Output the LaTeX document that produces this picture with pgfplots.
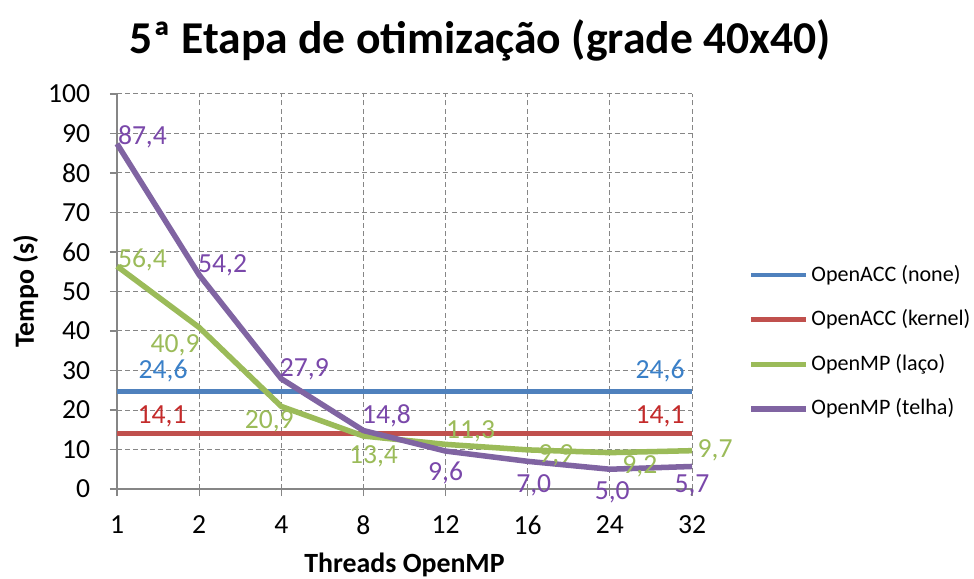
\documentclass[border=0pt]{standalone}
\usepackage{fontspec}
\setmainfont{Carlito}
\usepackage{pgfplots}
\usepackage{pgfplotstable}
\pgfplotsset{compat=1.18}

\definecolor{cnone}{HTML}{4F81BD}
\definecolor{ckern}{HTML}{C0504D}
\definecolor{claco}{HTML}{9BBB59}
\definecolor{ctelha}{HTML}{8064A2}
\definecolor{tnone}{HTML}{3A80C8}
\definecolor{tkern}{HTML}{C42B2B}
\definecolor{tlaco}{HTML}{9BBB59}
\definecolor{ttelha}{HTML}{7A48AA}
\definecolor{gridgray}{HTML}{868686}

% x = category index (1,2,4,8,12,16,24,32 threads)
\pgfplotstableread{
x y
0 24.6
1 24.6
2 24.6
3 24.6
4 24.6
5 24.6
6 24.6
7 24.6
}\tabnone
\pgfplotstableread{
x y
0 14.1
1 14.1
2 14.1
3 14.1
4 14.1
5 14.1
6 14.1
7 14.1
}\tabkernel
% endpoint labels, with label offsets in pt
\pgfplotstableread{
x y dx dy
0 24.6 19.2 8.5
7 24.6 -13.3 8.7
}\tabnonelab
\pgfplotstableread{
x y dx dy
0 14.1 18.8 7.0
7 14.1 -13.3 7.0
}\tabkernellab
\pgfplotstableread{
x y dx dy
0 56.4 10.6 2.6
1 40.9 -10.0 -7.3
2 20.9 -5.0 -6.3
3 13.4 4.2 -8.4
4 11.3 10.4 5.6
5 9.9 11.7 -2.1
6 9.2 12.5 -5.5
7 9.7 9.6 0.0
}\tablaco
\pgfplotstableread{
x y dx dy
0 87.4 10.6 3.0
1 54.2 9.8 4.1
2 27.9 9.6 3.9
3 14.8 9.6 6.0
4 9.6 0.0 -9.3
5 7.0 2.5 -9.8
6 5.0 1.0 -9.5
7 5.7 0.0 -8.1
}\tabtelha

\pgfplotsset{
  vlabels/.style={
    nodes near coords={\pgfmathprintnumber[assume math mode=true,use comma,fixed,fixed zerofill,precision=1]{\pgfplotspointmeta}},
    visualization depends on={\thisrow{dx}\as\lx},
    visualization depends on={\thisrow{dy}\as\ly},
    every node near coord/.append style={anchor=center, inner sep=0pt,
      font=\fontsize{11.5}{13}\selectfont, text=#1, xshift=\lx pt, yshift=\ly pt},
  },
}

\begin{document}
\begin{tikzpicture}
\path[use as bounding box] (-48.75pt,-37.5pt) rectangle (357.1pt,203.75pt);
\begin{axis}[
  at={(0pt,0pt)}, anchor=south west,
  scale only axis, width=239.6pt, height=164.6pt,
  xmin=0, xmax=7, ymin=0, ymax=100,
  xtick={0,...,7}, xticklabels={1,2,4,8,12,16,24,32},
  ytick={0,10,...,100},
  axis lines*=left,
  axis line style={draw=gridgray, line width=0.5pt, -},
  tick align=outside, major tick length=3pt,
  tick style={draw=gridgray, line width=0.5pt},
  grid=major,
  major grid style={draw=gridgray, line width=0.4pt, dash pattern=on 2.1pt off 1.3pt},
  tick label style={font=\fontsize{11.5}{13}\selectfont, inner sep=0pt},
  /pgf/number format/assume math mode=true,
  xticklabel style={anchor=center, yshift=-12pt},
  yticklabel style={anchor=east, xshift=-8pt},
  xlabel={Threads OpenMP}, ylabel={Tempo (s)},
  every axis x label/.style={at={(axis description cs:0.5,-0.1925)}, anchor=center,
    font=\fontsize{11.6}{13}\selectfont\bfseries},
  every axis y label/.style={at={(axis description cs:-0.1585,0.5)}, anchor=center, rotate=90,
    font=\fontsize{11.6}{13}\selectfont\bfseries},
  clip=false,
  legend style={at={(axis description cs:1.097,0.372)}, anchor=west,
    draw=none, fill=none, inner sep=0pt, row sep=9.6pt,
    font=\fontsize{9.2}{11}\selectfont,
    nodes={inner xsep=1pt, inner ysep=0pt, text height=7pt, text depth=2pt, anchor=west},
    /tikz/every even column/.append style={column sep=0pt}},
  legend cell align=left,
  legend image code/.code={\draw[#1] (0pt,0pt) -- (23pt,0pt);},
]
\addplot[cnone, line width=2pt] table[x=x,y=y] {\tabnone};
\addlegendentry{OpenACC (none)}
\addplot[ckern, line width=2pt] table[x=x,y=y] {\tabkernel};
\addlegendentry{OpenACC (kernel)}
\addplot[claco, line width=2.3pt, line join=round] table[x=x,y=y] {\tablaco};
\addlegendentry{OpenMP (laço)}
\addplot[ctelha, line width=2.3pt, line join=round] table[x=x,y=y] {\tabtelha};
\addlegendentry{OpenMP (telha)}

\addplot[draw=none, forget plot, vlabels=tnone] table[x=x,y=y] {\tabnonelab};
\addplot[draw=none, forget plot, vlabels=tkern] table[x=x,y=y] {\tabkernellab};
\addplot[draw=none, forget plot, vlabels=tlaco] table[x=x,y=y] {\tablaco};
\addplot[draw=none, forget plot, vlabels=ttelha] table[x=x,y=y] {\tabtelha};
\end{axis}
\node[font=\fontsize{19}{22}\selectfont\bfseries, anchor=base] at (151.25pt,181.25pt)
  {5ª Etapa de otimização (grade 40x40)};
\end{tikzpicture}
\end{document}
